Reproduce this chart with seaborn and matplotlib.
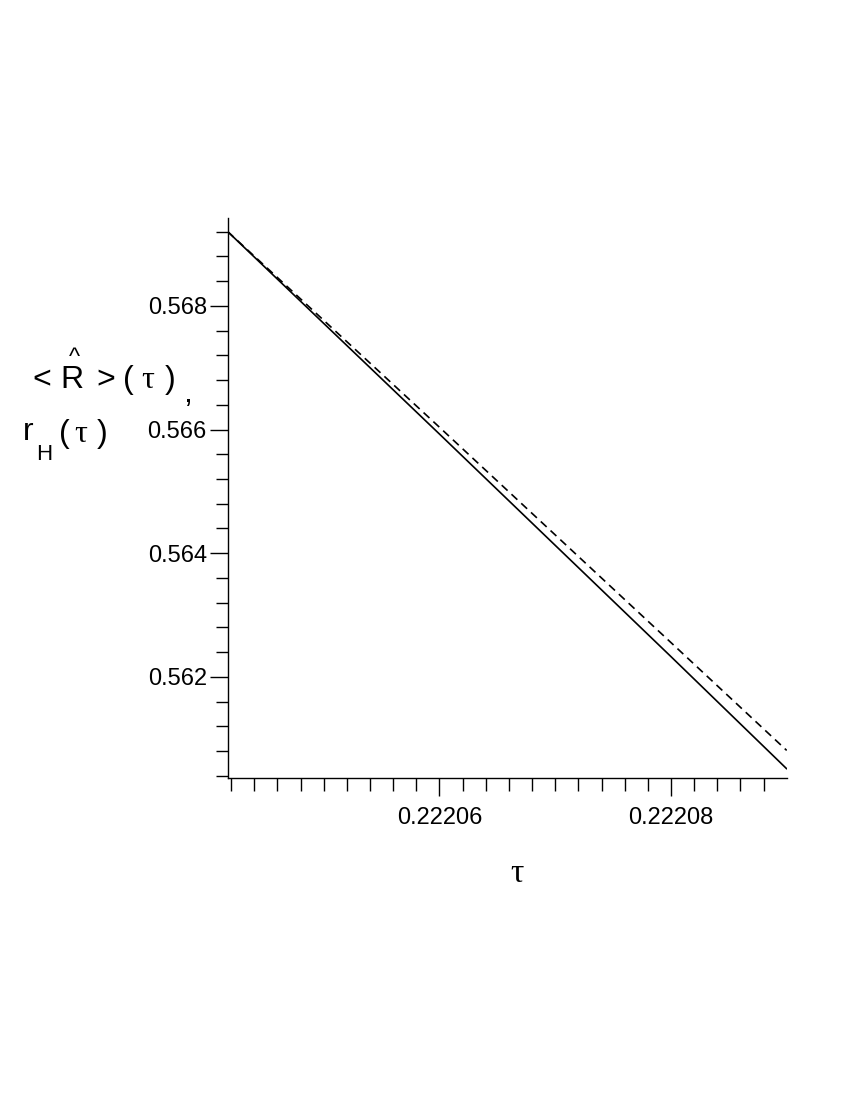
import matplotlib
matplotlib.use("Agg")
import pandas as pd
import matplotlib.pyplot as plt
from matplotlib.ticker import MultipleLocator, FixedLocator, FixedFormatter
import seaborn as sns

# values
tau = [0.2220417, 0.22206, 0.22208, 0.22209]
r_hat_mean = [0.5692, 0.565926, 0.562328, 0.560514]   # solid
r_h = [0.5692, 0.566036, 0.562555, 0.560811]          # dashed

x_ticks = [0.22206, 0.22208]
x_tick_labels = ["0.22206", "0.22208"]
y_ticks = [0.562, 0.564, 0.566, 0.568]
y_tick_labels = ["0.562", "0.564", "0.566", "0.568"]

df = pd.DataFrame({"tau": tau * 2,
                   "r": r_hat_mean + r_h,
                   "curve": ["mean"] * len(tau) + ["horizon"] * len(tau)})

sns.set_style("ticks")
plt.rcParams["font.family"] = ["Liberation Sans", "DejaVu Sans"]

W, H = 850, 1100
fig = plt.figure(figsize=(8.5, 11), dpi=100)
ax = fig.add_axes([227.7 / W, 1 - 777.7 / H, (786.7 - 227.7) / W, (777.7 - 218) / H])

sns.lineplot(data=df[df.curve == "mean"], x="tau", y="r", ax=ax,
             color="black", linewidth=1.2)
sns.lineplot(data=df[df.curve == "horizon"], x="tau", y="r", ax=ax,
             color="black", linewidth=1.2, linestyle=(0, (4.8, 3.2)))

ax.set_xlim(0.2220417, 0.22209)
ax.set_ylim(0.56037, 0.56942)
ax.set_xlabel("")
ax.set_ylabel("")

for side in ["top", "right"]:
    ax.spines[side].set_visible(False)
for side in ["left", "bottom"]:
    ax.spines[side].set_linewidth(1.0)
    ax.spines[side].set_color("black")

# minor ticks every 2e-6 on tau, stopping short of the axis end like the original
x_minor = [0.222042 + i * 0.000002 for i in range(24)]
ax.xaxis.set_major_locator(FixedLocator(x_ticks))
ax.xaxis.set_major_formatter(FixedFormatter(x_tick_labels))
ax.xaxis.set_minor_locator(FixedLocator(x_minor))
ax.yaxis.set_major_locator(FixedLocator(y_ticks))
ax.yaxis.set_major_formatter(FixedFormatter(y_tick_labels))
ax.yaxis.set_minor_locator(MultipleLocator(0.0004))

ax.tick_params(which="major", direction="out", length=13, width=1.0,
               color="black", labelsize=17, labelcolor="black")
ax.tick_params(which="minor", direction="out", length=9, width=1.0, color="black")
ax.tick_params(axis="x", which="major", pad=8)
ax.tick_params(axis="y", which="major", pad=2)

# axis labels, placed piece by piece like the original
def put(s, x, y, size, family="Liberation Sans"):
    fig.text(x / W, 1 - y / H, s, fontsize=size, family=family,
             ha="center", va="baseline", color="black")

put("<", 42, 388, 23)
put("R", 72, 388, 23)
put("^", 74, 364, 17)
put(">", 106, 388, 23)
put("(", 128, 388, 23)
put("\u03c4", 148, 388, 23, "Liberation Serif")
put(")", 170, 388, 23)
put(",", 188, 402, 23)
put("r", 28, 440, 23)
put("H", 44, 460, 16)
put("(", 64, 442, 23)
put("\u03c4", 81, 442, 23, "Liberation Serif")
put(")", 102, 442, 23)
put("\u03c4", 517, 882, 24, "Liberation Serif")

fig.savefig("out.png", dpi=100)
